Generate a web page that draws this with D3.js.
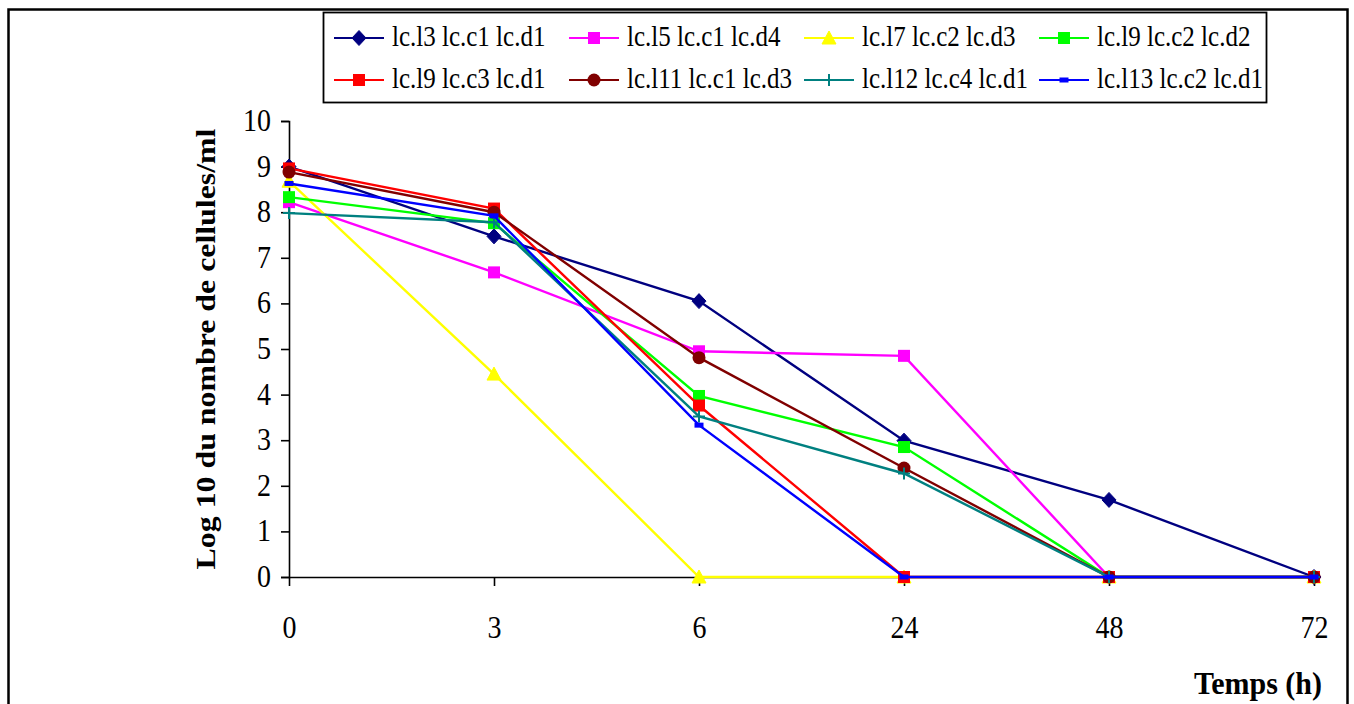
<!DOCTYPE html>
<html>
<head>
<meta charset="utf-8">
<script src="https://cdn.jsdelivr.net/npm/d3@7"></script>
<style>
  html, body { margin: 0; padding: 0; background: #fff; }
  svg { display: block; }
  svg text { font-family: "Liberation Serif", "Times New Roman", serif; }
</style>
</head>
<body>
<svg id="chart" width="1354" height="704"></svg>
<script>
// Sampling times (categorical axis)
const times = ["0", "3", "6", "24", "48", "72"];

// Log10 of cell counts per ml for each strain
const seriesNames = [
  "lc.l3 lc.c1 lc.d1", "lc.l5 lc.c1 lc.d4", "lc.l7 lc.c2 lc.d3", "lc.l9 lc.c2 lc.d2",
  "lc.l9 lc.c3 lc.d1", "lc.l11 lc.c1 lc.d3", "lc.l12 lc.c4 lc.d1", "lc.l13 lc.c2 lc.d1"
];
const l3c1d1  = [9.0, 7.47, 6.05, 2.99, 1.69, 0];
const l5c1d4  = [8.22, 6.68, 4.95, 4.85, 0, 0];
const l7c2d3  = [8.68, 4.45, 0, 0, 0, 0];
const l9c2d2  = [8.33, 7.76, 3.97, 2.85, 0, 0];
const l9c3d1  = [8.96, 8.08, 3.76, 0, 0, 0];
const l11c1d3 = [8.88, 8.0, 4.81, 2.39, 0, 0];
const l12c4d1 = [7.98, 7.78, 3.52, 2.27, 0, 0];
const l13c2d1 = [8.63, 7.92, 3.33, 0, 0, 0];

const yTicks = [0, 1, 2, 3, 4, 5, 6, 7, 8, 9, 10];

const seriesValues = [l3c1d1, l5c1d4, l7c2d3, l9c2d2, l9c3d1, l11c1d3, l12c4d1, l13c2d1];
const colors = ["#000080", "#FF00FF", "#FFFF00", "#00FF00", "#FF0000", "#800000", "#008080", "#0000FF"];
const shapes = ["diamond", "square", "triangle", "square", "square", "circle", "plus", "dash"];

const series = seriesNames.map((name, i) => ({
  name, color: colors[i], shape: shapes[i],
  values: seriesValues[i].map((v, j) => ({ t: times[j], v }))
}));

const FONT = "Liberation Serif";
const STRETCH = 1.15; // tall, narrow glyph proportions

const svg = d3.select("#chart");

// Outer chart frame
svg.append("rect")
  .attr("x", 8.5).attr("y", 9.5).attr("width", 1339).attr("height", 720)
  .attr("fill", "none").attr("stroke", "#000").attr("stroke-width", 2.5);

const x = d3.scalePoint().domain(times).range([289, 1314]).padding(0);
const y = d3.scaleLinear().domain([0, 10]).range([577, 121]);

// Y axis
const yAxis = svg.append("g").attr("transform", "translate(289,0)")
  .call(d3.axisLeft(y).tickValues(yTicks).tickSize(8).tickFormat(d3.format("d")));
yAxis.select(".domain").attr("stroke", "#000").attr("stroke-width", 1.6);
yAxis.selectAll(".tick line").attr("stroke", "#000").attr("stroke-width", 1.6);
yAxis.selectAll(".tick text")
  .attr("x", 0).attr("y", 0).attr("dy", null)
  .attr("transform", `translate(-18,9.5) scale(1,${STRETCH})`)
  .attr("font-family", FONT).attr("font-size", 28).attr("fill", "#000");

// X axis along y = 0
const xAxis = svg.append("g").attr("transform", `translate(0,${y(0)})`)
  .call(d3.axisBottom(x).tickSize(9).tickSizeOuter(0));
xAxis.select(".domain").attr("stroke", "#000").attr("stroke-width", 1.6);
xAxis.selectAll(".tick line").attr("stroke", "#000").attr("stroke-width", 1.6);
xAxis.selectAll(".tick text")
  .attr("x", 0).attr("y", 0).attr("dy", null)
  .attr("transform", `translate(0,61) scale(1,${STRETCH})`)
  .attr("font-family", FONT).attr("font-size", 28).attr("fill", "#000");

// Axis titles
svg.append("text")
  .attr("transform", `translate(215,${(121 + 577) / 2}) rotate(-90) scale(${1.18},1)`)
  .attr("text-anchor", "middle")
  .attr("font-family", FONT).attr("font-weight", "bold").attr("font-size", 27)
  .text("Log 10 du nombre de cellules/ml");

svg.append("text")
  .attr("transform", `translate(1322,694) scale(1,1.08)`)
  .attr("text-anchor", "end")
  .attr("font-family", FONT).attr("font-weight", "bold").attr("font-size", 30)
  .text("Temps (h)");

// Marker drawing
function drawMarker(g, shape, color) {
  switch (shape) {
    case "diamond":
      g.append("path").attr("d", "M0,-7.5L7,0L0,7.5L-7,0Z").attr("fill", color).attr("stroke", color);
      break;
    case "square":
      g.append("rect").attr("x", -6).attr("y", -6).attr("width", 12).attr("height", 12).attr("fill", color);
      break;
    case "triangle":
      g.append("path").attr("d", "M0,-7L7,6L-7,6Z").attr("fill", color).attr("stroke", color);
      break;
    case "circle":
      g.append("circle").attr("r", 6.5).attr("fill", color);
      break;
    case "plus":
      g.append("path").attr("d", "M-6,0H6M0,-6V6").attr("stroke", color).attr("stroke-width", 2);
      break;
    case "dash":
      g.append("rect").attr("x", -4.5).attr("y", -2.5).attr("width", 9).attr("height", 5).attr("fill", color);
      break;
  }
}

const line = d3.line().x(d => x(d.t)).y(d => y(d.v));

const plot = svg.append("g");
series.forEach(s => {
  const g = plot.append("g");
  g.append("path").datum(s.values)
    .attr("d", line).attr("fill", "none")
    .attr("stroke", s.color).attr("stroke-width", 2.4);
  g.selectAll("g.m").data(s.values).join("g")
    .attr("class", "m")
    .attr("transform", d => `translate(${x(d.t)},${y(d.v)})`)
    .each(function () { drawMarker(d3.select(this), s.shape, s.color); });
});

// Legend
const legend = svg.append("g");
legend.append("rect")
  .attr("x", 323.5).attr("y", 12.5).attr("width", 943).attr("height", 90)
  .attr("fill", "#fff").attr("stroke", "#000").attr("stroke-width", 1.8);

series.forEach((s, i) => {
  const col = i % 4, row = Math.floor(i / 4);
  const lx = 334 + col * 235, ly = 38 + row * 42;
  const g = legend.append("g").attr("transform", `translate(${lx},${ly})`);
  g.append("line").attr("x1", 0).attr("x2", 50).attr("y1", 0).attr("y2", 0)
    .attr("stroke", s.color).attr("stroke-width", 2.2);
  const mk = g.append("g").attr("transform", "translate(25,0)");
  drawMarker(mk, s.shape, s.color);
  g.append("text")
    .attr("transform", `translate(58,8) scale(1,${STRETCH})`)
    .attr("font-family", FONT).attr("font-size", 25).attr("fill", "#000")
    .text(s.name);
});
</script>
</body>
</html>
